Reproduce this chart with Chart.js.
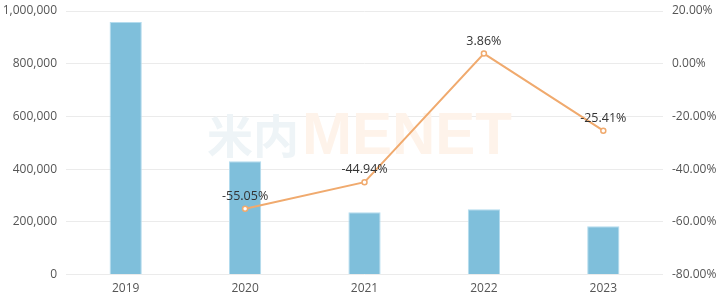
<!DOCTYPE html>
<html><head><meta charset="utf-8">
<script src="https://cdn.jsdelivr.net/npm/chart.js@4/dist/chart.umd.min.js"></script>
<style>html,body{margin:0;padding:0;background:#fff}#wrap{width:726px;height:299px}</style>
</head><body><div id="wrap"><canvas id="c"></canvas></div>
<script>
const categories = ['2019','2020','2021','2022','2023'];
const volumeValues = [958000, 430000, 237000, 248000, 183000];
const growthValues = [null, -55.05, -44.94, 3.86, -25.41];
const leftTicks = [0, 200000, 400000, 600000, 800000, 1000000];
const rightTicks = [-80, -60, -40, -20, 0, 20];

const FONT = '"Open Sans", "Noto Sans", sans-serif';

const watermark = {
  id: 'watermark',
  beforeDatasetsDraw(chart) {
    const {ctx} = chart;
    const cy = 136;
    ctx.save();
    ctx.textBaseline = 'middle';
    ctx.font = 'bold 46px "Noto Sans CJK SC", sans-serif';
    ctx.fillStyle = '#eef4f7';
    ctx.textAlign = 'right';
    ctx.fillText('米内', 299, cy);
    ctx.font = 'bold 60px "Liberation Sans", sans-serif';
    ctx.fillStyle = '#fef3ea';
    ctx.textAlign = 'left';
    ctx.fillText('MENET', 302, cy + 1);
    ctx.restore();
  }
};

const pointLabels = {
  id: 'pointLabels',
  afterDatasetsDraw(chart) {
    const {ctx} = chart;
    const meta = chart.getDatasetMeta(0);
    ctx.save();
    ctx.font = '12.5px ' + FONT;
    ctx.fillStyle = '#333';
    ctx.textAlign = 'center';
    ctx.textBaseline = 'bottom';
    meta.data.forEach((pt, i) => {
      const v = growthValues[i];
      if (v === null || v === undefined) return;
      ctx.fillText(v.toFixed(2) + '%', pt.x, pt.y - 6);
    });
    ctx.restore();
  }
};

new Chart(document.getElementById('c'), {
  data: {
    labels: categories,
    datasets: [
      {
        type: 'line',
        data: growthValues,
        yAxisID: 'y1',
        borderColor: '#f0aa6e',
        borderWidth: 2,
        pointRadius: 2.5,
        pointBorderWidth: 1.5,
        pointBackgroundColor: '#fff',
        pointBorderColor: '#f0aa6e',
        spanGaps: false,
        order: 0
      },
      {
        type: 'bar',
        data: volumeValues,
        yAxisID: 'y',
        backgroundColor: '#7fbfdb',
        borderColor: '#b4dcee',
        borderWidth: 1,
        categoryPercentage: 1,
        barPercentage: 0.27,
        order: 1
      }
    ]
  },
  options: {
    responsive: true,
    maintainAspectRatio: false,
    animation: false,
    layout: {padding: {top: 11, bottom: -4, left: 0, right: 0}},
    plugins: {legend: {display: false}, tooltip: {enabled: false}},
    scales: {
      x: {
        grid: {display: false, drawTicks: false},
        border: {display: false},
        ticks: {color: '#555', font: {size: 12, family: FONT}, padding: 7}
      },
      y: {
        position: 'left',
        min: 0, max: 1000000,
        afterBuildTicks(s) { s.ticks = leftTicks.map(v => ({value: v})); },
        afterFit(s) { s.width = 66; s.paddingTop = 0; s.paddingBottom = 0; },
        grid: {color: '#ebebeb', drawTicks: false},
        border: {display: false},
        ticks: {color: '#555', font: {size: 12, family: FONT}, padding: 9,
          callback: v => v.toLocaleString('en-US')}
      },
      y1: {
        position: 'right',
        min: -80, max: 20,
        afterBuildTicks(s) { s.ticks = rightTicks.map(v => ({value: v})); },
        afterFit(s) { s.width = 63; s.paddingTop = 0; s.paddingBottom = 0; },
        grid: {display: false, drawTicks: false},
        border: {display: false},
        ticks: {color: '#555', font: {size: 12, family: FONT}, padding: 9,
          callback: v => v.toFixed(2) + '%'}
      }
    }
  },
  plugins: [watermark, pointLabels]
});
</script>
</body></html>
